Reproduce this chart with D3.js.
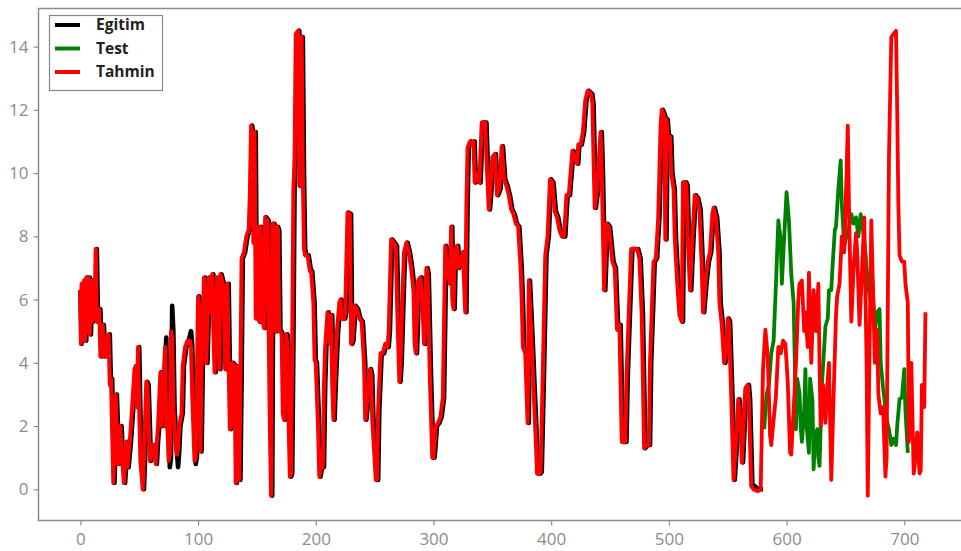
<!DOCTYPE html>
<html><head><meta charset="utf-8">
<script src="https://cdn.jsdelivr.net/npm/d3@7"></script>
<style>body{margin:0;background:#fff} svg{display:block}</style>
</head><body><svg id="c" width="961" height="551"></svg>
<script>
// ---- data (index, value) ----
const egitim = [[0,6.3],[1,4.6],[2,6.5],[3,4.8],[4,6.6],[5,4.7],[6,6.7],[7,5.0],[8,6.7],[9,4.9],[10,6.6],[11,5.3],[12,6.2],[13,5.4],[14,7.6],[15,5.3],[17,5.7],[18,4.2],[20,5.2],[21,4.2],[23,4.8],[24,4.2],[25,4.9],[26,3.3],[27,3.5],[29,0.2],[31,3.0],[33,0.8],[35,2.0],[36,1.2],[38,0.2],[40,1.5],[41,0.7],[43,1.5],[45,2.6],[47,3.8],[48,3.9],[49,2.6],[50,4.5],[51,2.5],[52,0.9],[54,0.0],[55,1.0],[57,3.4],[58,3.3],[60,0.9],[62,1.4],[63,1.4],[65,0.8],[66,1.5],[67,2.0],[69,3.7],[70,2.0],[71,3.0],[73,4.8],[74,2.0],[75,1.9],[76,0.7],[77,1.0],[78,5.8],[79,5.0],[80,2.6],[82,1.2],[83,0.7],[84,1.2],[85,2.0],[87,2.4],[88,3.9],[90,4.5],[92,4.7],[94,5.0],[95,4.6],[96,3.0],[98,0.8],[99,1.0],[101,6.1],[102,5.8],[103,1.2],[104,3.8],[106,6.7],[107,6.0],[108,4.0],[110,6.7],[112,5.6],[113,6.8],[114,5.0],[115,3.7],[117,6.7],[118,6.2],[119,3.8],[120,6.8],[122,6.5],[123,5.8],[124,3.8],[125,6.4],[126,6.5],[127,3.9],[128,1.9],[129,2.0],[130,4.0],[132,3.9],[133,0.2],[134,1.0],[135,3.9],[136,0.3],[137,3.5],[138,7.3],[140,7.5],[142,8.0],[144,8.2],[145,9.3],[146,11.5],[147,11.2],[148,7.8],[149,11.3],[150,5.4],[151,8.3],[152,8.0],[153,5.3],[154,8.3],[155,7.5],[156,5.3],[157,5.1],[158,8.6],[160,8.5],[161,5.0],[162,2.0],[163,-0.2],[164,8.4],[165,8.4],[166,8.1],[167,5.0],[168,8.3],[169,8.2],[170,5.0],[171,5.0],[172,4.9],[173,2.4],[174,2.2],[176,4.9],[177,4.5],[178,2.0],[179,0.4],[180,0.5],[181,4.6],[182,9.5],[183,10.5],[184,14.4],[186,14.5],[187,9.6],[188,14.3],[189,14.3],[190,10.0],[191,7.6],[192,7.4],[194,7.4],[196,6.9],[197,6.9],[199,5.9],[200,4.1],[201,4.0],[203,1.9],[204,0.4],[205,0.6],[206,1.2],[207,0.7],[208,3.3],[209,4.5],[211,5.6],[212,5.3],[213,4.6],[214,5.5],[215,3.3],[216,2.2],[217,3.3],[219,5.0],[221,5.9],[222,6.0],[223,5.4],[225,5.4],[226,5.6],[228,8.75],[230,8.7],[231,4.6],[232,4.7],[234,5.8],[236,5.7],[238,5.4],[240,5.3],[242,4.0],[243,2.2],[245,3.0],[247,3.8],[248,3.6],[249,2.2],[252,0.3],[253,0.3],[254,2.5],[256,4.3],[258,4.3],[260,4.6],[262,4.5],[263,5.0],[265,7.9],[267,7.8],[269,7.7],[270,6.0],[272,3.4],[273,4.0],[275,6.5],[276,7.5],[278,7.8],[280,7.5],[282,7.0],[284,6.3],[285,4.6],[286,4.3],[288,6.6],[290,6.7],[292,5.5],[293,4.6],[295,7.0],[296,6.8],[298,3.5],[300,1.0],[301,1.0],[303,2.0],[305,2.1],[307,2.3],[309,2.9],[311,7.7],[312,7.2],[313,6.9],[315,6.5],[316,8.3],[317,6.0],[318,5.7],[319,7.5],[321,7.7],[322,7.0],[324,7.2],[326,7.5],[328,5.6],[329,9.0],[330,10.8],[332,11.0],[334,10.9],[335,11.0],[336,9.7],[338,10.0],[340,9.7],[342,11.6],[345,11.6],[346,10.5],[348,8.85],[349,9.3],[351,10.5],[353,10.6],[355,9.3],[357,9.5],[359,10.85],[361,9.8],[363,9.6],[365,9.3],[367,8.85],[369,8.7],[371,8.4],[373,8.3],[375,7.0],[376,6.0],[377,4.5],[379,4.3],[381,2.1],[382,6.6],[384,5.0],[386,3.2],[388,1.5],[389,0.5],[391,0.5],[392,0.55],[394,3.8],[396,7.4],[398,8.0],[400,9.8],[402,9.7],[404,8.8],[406,8.6],[408,8.2],[410,8.0],[412,8.0],[414,9.3],[416,9.3],[419,10.7],[421,10.5],[423,10.3],[424,10.9],[426,10.9],[428,11.3],[430,12.3],[432,12.6],[435,12.5],[436,12.2],[438,8.9],[440,9.5],[443,11.3],[444,10.0],[446,6.3],[448,8.4],[450,8.3],[453,7.2],[455,7.0],[457,5.05],[459,5.2],[461,1.5],[464,1.5],[465,3.5],[467,5.6],[469,7.6],[471,7.6],[474,7.6],[476,7.3],[478,5.5],[480,1.3],[482,1.4],[484,1.4],[485,4.0],[488,7.2],[490,7.3],[492,8.6],[494,11.5],[495,12.0],[497,11.8],[498,7.9],[499,11.7],[500,11.2],[502,11.15],[503,10.0],[505,9.5],[506,8.0],[508,6.6],[510,5.5],[512,5.3],[513,9.7],[515,9.7],[516,9.6],[517,8.0],[519,6.3],[521,8.0],[523,9.3],[525,9.2],[527,8.85],[529,7.0],[530,5.6],[532,6.5],[534,7.2],[536,7.5],[538,8.7],[539,8.9],[541,8.6],[543,7.5],[544,5.9],[546,5.2],[548,4.0],[550,4.5],[551,5.4],[552,5.3],[554,3.0],[556,0.3],[558,1.5],[560,2.85],[562,2.0],[563,0.85],[565,2.5],[566,3.2],[568,3.3],[569,2.85],[571,0.1],[573,0.1],[576,0.0],[580,0.0]];

const tahminEgitim = [[0,6.3],[0.4,4.6],[1,6.5],[2,4.8],[3,6.6],[4,4.7],[5,6.7],[6,5.0],[7,6.7],[8,4.9],[9,6.6],[10,5.3],[11,6.2],[12,5.4],[13,7.6],[14,5.3],[16,5.7],[17,4.2],[19,5.2],[20,4.2],[22,4.8],[23,4.2],[24,4.9],[25,3.3],[26,3.5],[28,0.2],[30,3.0],[32,0.8],[34,2.0],[35,1.2],[37,0.2],[39,1.5],[40,0.7],[42,1.5],[44,2.6],[46,3.8],[47,3.9],[48,2.6],[49,4.5],[50,2.5],[51,0.9],[53,0.0],[54,1.0],[56,3.4],[57,3.3],[59,0.9],[61,1.4],[62,1.4],[64,0.8],[65,1.5],[66,2.0],[68,3.7],[69,2.0],[70,3.0],[72,4.5],[73,2.0],[74,1.9],[75,0.9],[76,1.1],[77,5.0],[78,4.8],[79,2.6],[81,1.3],[82,1.1],[83,1.3],[84,2.0],[86,2.4],[87,3.9],[89,4.5],[91,4.7],[93,4.7],[94,4.5],[95,3.0],[97,0.9],[98,1.0],[100,6.1],[101,5.8],[102,1.2],[103,3.8],[105,6.7],[106,6.0],[107,4.0],[109,6.7],[111,5.6],[112,6.8],[113,5.0],[114,3.7],[116,6.7],[117,6.2],[118,3.8],[119,6.8],[121,6.5],[122,5.8],[123,3.8],[124,6.4],[125,6.5],[126,3.9],[127,1.9],[128,2.0],[129,4.0],[131,3.9],[132,0.2],[133,1.0],[134,3.9],[135,0.3],[136,3.5],[137,7.3],[139,7.5],[141,8.0],[143,8.2],[144,9.3],[145,11.5],[146,11.2],[147,7.8],[148,11.3],[149,5.4],[150,8.3],[151,8.0],[152,5.3],[153,8.3],[154,7.5],[155,5.3],[156,5.1],[157,8.6],[159,8.5],[160,5.0],[161,2.0],[162,-0.2],[163,8.4],[164,8.4],[165,8.1],[166,5.0],[167,8.3],[168,8.2],[169,5.0],[170,5.0],[171,4.9],[172,2.4],[173,2.2],[175,4.9],[176,4.5],[177,2.0],[178,0.4],[179,0.5],[180,4.6],[181,9.5],[182,10.5],[183,14.4],[185,14.5],[186,9.6],[187,14.3],[188,14.3],[189,10.0],[190,7.6],[191,7.4],[193,7.4],[195,6.9],[196,6.9],[198,5.9],[199,4.1],[200,4.0],[202,1.9],[203,0.4],[204,0.6],[205,1.2],[206,0.7],[207,3.3],[208,4.5],[210,5.6],[211,5.3],[212,4.6],[213,5.5],[214,3.3],[215,2.2],[216,3.3],[218,5.0],[220,5.9],[221,6.0],[222,5.4],[224,5.4],[225,5.6],[227,8.75],[229,8.7],[230,4.6],[231,4.7],[233,5.8],[235,5.7],[237,5.4],[239,5.3],[241,4.0],[242,2.2],[244,3.0],[246,3.8],[247,3.6],[248,2.2],[251,0.3],[252,0.3],[253,2.5],[255,4.3],[257,4.3],[259,4.6],[261,4.5],[262,5.0],[264,7.9],[266,7.8],[268,7.7],[269,6.0],[271,3.4],[272,4.0],[274,6.5],[275,7.5],[277,7.8],[279,7.5],[281,7.0],[283,6.3],[284,4.6],[285,4.3],[287,6.6],[289,6.7],[291,5.5],[292,4.6],[294,7.0],[295,6.8],[297,3.5],[299,1.0],[300,1.0],[302,2.0],[304,2.1],[306,2.3],[308,2.9],[310,7.7],[311,7.2],[312,6.9],[314,6.5],[315,8.3],[316,6.0],[317,5.7],[318,7.5],[320,7.7],[321,7.0],[323,7.2],[325,7.5],[327,5.6],[328,9.0],[329,10.8],[331,11.0],[333,10.9],[334,11.0],[335,9.7],[337,10.0],[339,9.7],[341,11.6],[344,11.6],[345,10.5],[347,8.85],[348,9.3],[350,10.5],[352,10.6],[354,9.3],[356,9.5],[358,10.85],[360,9.8],[362,9.6],[364,9.3],[366,8.85],[368,8.7],[370,8.4],[372,8.3],[374,7.0],[375,6.0],[376,4.5],[378,4.3],[380,2.1],[381,6.6],[383,5.0],[385,3.2],[387,1.5],[388,0.5],[390,0.5],[391,0.55],[393,3.8],[395,7.4],[397,8.0],[399,9.8],[401,9.7],[403,8.8],[405,8.6],[407,8.2],[409,8.0],[411,8.0],[413,9.3],[415,9.3],[418,10.7],[420,10.5],[422,10.3],[423,10.9],[425,10.9],[427,11.3],[429,12.3],[431,12.6],[434,12.5],[435,12.2],[437,8.9],[439,9.5],[442,11.3],[443,10.0],[445,6.3],[447,8.4],[449,8.3],[452,7.2],[454,7.0],[456,5.05],[458,5.2],[460,1.5],[463,1.5],[464,3.5],[466,5.6],[468,7.6],[470,7.6],[473,7.6],[475,7.3],[477,5.5],[479,1.3],[481,1.4],[483,1.4],[484,4.0],[487,7.2],[489,7.3],[491,8.6],[493,11.5],[494,12.0],[496,11.8],[497,7.9],[498,11.7],[499,11.2],[501,11.15],[502,10.0],[504,9.5],[505,8.0],[507,6.6],[509,5.5],[511,5.3],[512,9.7],[514,9.7],[515,9.6],[516,8.0],[518,6.3],[520,8.0],[522,9.3],[524,9.2],[526,8.85],[528,7.0],[529,5.6],[531,6.5],[533,7.2],[535,7.5],[537,8.7],[538,8.9],[540,8.6],[542,7.5],[543,5.9],[545,5.2],[547,4.0],[549,4.5],[550,5.4],[551,5.3],[553,3.0],[555,0.3],[557,1.5],[559,2.85],[561,2.0],[562,0.85],[564,2.5],[565,3.2],[567,3.3],[568,2.85],[570,0.1],[572,0.0],[575,-0.05],[577,-0.05]];

const test = [[581,1.9],[583,3.0],[585,3.3],[587,4.3],[589,4.7],[591,6.5],[593,8.5],[595,7.9],[596,6.5],[598,8.0],[600,9.4],[602,8.5],[604,6.8],[606,5.9],[607,4.0],[608,1.9],[609,3.5],[611,3.05],[612,2.0],[613,1.5],[615,2.5],[616,3.8],[617,2.0],[619,1.15],[620,3.5],[622,2.8],[623,0.63],[624,1.5],[626,1.9],[627,1.0],[628,0.74],[629,2.0],[630,3.3],[632,4.5],[633,5.15],[635,5.4],[636,6.3],[638,6.3],[639,7.0],[641,8.2],[642,8.3],[644,9.5],[646,10.4],[647,9.0],[649,7.7],[651,8.0],[653,8.3],[655,8.7],[657,8.4],[659,8.6],[661,8.0],[663,8.7],[665,8.2],[667,7.5],[669,6.5],[671,6.0],[673,6.6],[675,5.0],[677,5.6],[679,5.7],[680,4.0],[682,3.2],[683,2.9],[685,2.2],[687,1.9],[689,1.4],[691,1.6],[693,1.4],[694,2.0],[696,2.85],[698,2.9],[700,3.8],[701,2.5],[703,1.15]];

const tahminTest = [[577,-0.05],[578,0.0],[580,3.8],[582,5.05],[584,4.2],[586,1.7],[587,1.4],[589,2.2],[591,2.95],[593,4.5],[595,4.3],[597,4.7],[599,4.6],[601,3.4],[603,1.15],[604,1.1],[606,2.5],[608,4.0],[610,6.0],[611,6.5],[613,6.6],[615,5.0],[616,5.6],[618,4.5],[619,6.85],[621,4.0],[623,6.3],[625,5.0],[627,6.5],[628,4.0],[629,2.0],[631,3.3],[633,2.1],[635,3.5],[636,4.0],[638,0.3],[640,3.0],[642,5.5],[643,6.1],[645,6.5],[647,8.0],[649,7.5],[651,10.0],[652,11.5],[653,9.0],[655,5.3],[657,7.0],[659,8.1],[660,7.5],[662,5.2],[664,6.8],[666,8.6],[668,4.0],[669,-0.2],[670,3.0],[672,8.5],[673,7.0],[675,4.0],[677,5.05],[678,3.0],[680,2.4],[682,2.6],[684,0.4],[685,1.0],[687,10.5],[689,14.3],[691,14.4],[693,14.5],[694,12.0],[695,9.0],[696,7.4],[698,7.2],[700,7.2],[701,6.5],[703,5.9],[704,1.5],[706,4.0],[708,0.5],[709,0.8],[711,1.8],[713,0.5],[714,0.6],[715,3.3],[717,2.6],[718,5.6]];

const xTicks = [0,100,200,300,400,500,600,700];
const yTicks = [0,2,4,6,8,10,12,14];
const legendNames = ["Egitim","Test","Tahmin"];
const legendColors = ["#000000","#008000","#ff0000"];

// ---- drawing ----
const svg = d3.select("#c");
const x = d3.scaleLinear().domain([-36, 755]).range([38, 969]);
const y = d3.scaleLinear().domain([-0.97, 15.22]).range([520, 8]);
const gray = "#8c8c8c";

svg.append("defs").append("clipPath").attr("id","clip")
  .append("rect").attr("x",38).attr("y",8).attr("width",931).attr("height",512);

const line = d3.line().x(d => x(d[0])).y(d => y(d[1]));
const plot = svg.append("g").attr("clip-path","url(#clip)");
const draw = (data, color, w) => plot.append("path").datum(data)
  .attr("d", line).attr("fill","none").attr("stroke", color)
  .attr("stroke-width", w).attr("stroke-linejoin","round");
draw(egitim, legendColors[0], 4.6);
draw(test, legendColors[1], 3.8);
draw(tahminEgitim, legendColors[2], 4);
draw(tahminTest, legendColors[2], 3.8);

// frame
svg.append("path")
  .attr("d", `M${x.range()[1]},8.5H38.5V520.5H${x.range()[1]}`)
  .attr("fill","none").attr("stroke",gray).attr("stroke-width",1.5);

const font = "'Open Sans', sans-serif";
const xa = svg.append("g").attr("transform","translate(0,520.5)")
  .call(d3.axisBottom(x).tickValues(xTicks).tickSize(5).tickPadding(7).tickFormat(d3.format("d")));
const ya = svg.append("g").attr("transform","translate(38.5,0)")
  .call(d3.axisLeft(y).tickValues(yTicks).tickSize(5).tickPadding(5).tickFormat(d3.format("d")));
[xa, ya].forEach(g => {
  g.select(".domain").remove();
  g.selectAll(".tick line").attr("stroke", gray).attr("stroke-width",1.2);
  g.selectAll(".tick text").attr("fill", gray).style("font-family", font).style("font-size","17px");
});

// legend
const lg = svg.append("g");
lg.append("rect").attr("x",49.5).attr("y",15.5).attr("width",113).attr("height",75)
  .attr("fill","#fff").attr("stroke","#888").attr("stroke-width",1.2);
legendNames.forEach((n,i) => {
  const yy = 25 + i*23.5;
  lg.append("line").attr("x1",55).attr("x2",80).attr("y1",yy).attr("y2",yy)
    .attr("stroke",legendColors[i]).attr("stroke-width",4);
  lg.append("text").attr("x",96).attr("y",yy).attr("dy","0.35em")
    .attr("fill","#222").style("font-family",font).style("font-weight","bold")
    .style("font-size","15.5px").text(n);
});
</script></body></html>
